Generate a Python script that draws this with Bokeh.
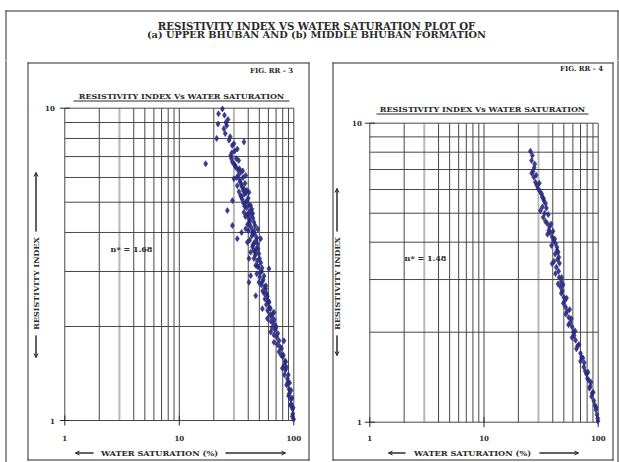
import math
from bokeh.plotting import figure
from bokeh.models import Label, BoxAnnotation, Arrow, OpenHead, Range1d
from bokeh.core.properties import value
from bokeh.layouts import column, row
from bokeh.embed import file_html
from bokeh.resources import INLINE

FONT = "DejaVu Serif"
INK = "#2a2a2a"
GRID = "#474747"
GRID_LIGHT = "#b8b8b8"
PT = "#28287f"

# ---------------- data ----------------
title_lines = ["RESISTIVITY INDEX VS WATER SATURATION PLOT OF",
               "(a) UPPER BHUBAN AND (b) MIDDLE BHUBAN FORMATION"]
chart_title = "RESISTIVITY INDEX Vs WATER SATURATION"
fig_labels = ["FIG. RR - 3", "FIG. RR - 4"]
n_labels = ["n* = 1.68", "n* = 1.48"]
x_label = "WATER SATURATION (%)"
y_label = "RESISTIVITY INDEX"

x_ticks = [1, 10, 100]
x_tick_labels = ["1", "10", "100"]
y_ticks = [1, 10]
y_tick_labels = ["1", "10"]
x_grid_dark = [1, 2, 4, 5, 6, 7, 8, 9, 10, 20, 40, 50, 60, 70, 80, 90, 100]
x_grid_light = [3, 30]
y_grid = [1, 2, 3, 4, 5, 6, 7, 8, 9, 10]

# (a) Upper Bhuban: water saturation (%) and resistivity index
left_sw = [23.8, 26.6, 24.5, 21.2, 27.2, 30.0, 36.7, 32.1, 28.1, 17.0, 29.1, 31.1,
           34.4, 38.0, 30.0, 32.1, 36.7, 40.6, 34.4, 29.1, 38.0, 42.0, 26.3, 36.7,
           40.6, 44.9, 29.1, 38.0, 43.5, 32.1, 39.3, 48.1, 42.0, 51.4, 44.9, 40.6,
           46.5, 60.7, 42.0, 49.6, 40.6, 56.8, 46.5, 60.7, 53.2, 67.1, 58.8, 69.5,
           62.8, 82.0, 67.1, 74.3, 85.0, 79.4, 87.9, 90.8, 94.0, 97.2, 99.6,
           24.8, 25.5, 26.0, 25.2, 27.8, 29.0, 30.5, 28.8, 31.5, 33.0, 30.2, 33.5,
           35.8, 32.8, 36.0, 34.0, 37.5, 35.2, 39.0, 33.2, 37.0, 40.0, 35.5, 36.5,
           40.5, 38.5, 43.0, 40.0, 42.2, 37.8, 44.0, 41.5, 39.5, 46.0, 42.5, 40.2,
           45.5, 43.0, 47.5, 41.2, 45.0, 43.5, 47.0, 44.8, 49.5, 46.0, 48.0, 51.5,
           49.0, 52.5, 47.5, 50.5, 54.0, 52.0, 55.5, 53.5, 58.0, 56.0, 59.5, 57.5,
           61.5, 59.0, 62.0, 64.5, 63.0, 66.0, 64.5, 68.5, 67.0, 71.0, 72.0, 76.0,
           77.5, 80.0, 82.0, 84.5, 83.0, 88.5, 86.5, 91.5, 90.0, 95.0, 93.5, 98.0,
           97.0, 35.0, 48.5, 22.0, 21.8,
           28.5, 30.8, 32.5, 31.8, 33.8, 35.0, 36.2, 38.2, 34.8, 39.2, 37.2, 41.8,
           39.0, 43.8, 41.0, 45.0, 43.8, 46.8, 44.2, 48.6, 46.3, 50.2, 48.0, 52.8,
           50.8, 55.0, 53.0, 57.0, 55.2, 58.8, 60.5, 62.5, 65.5, 67.5, 69.8, 72.5,
           74.5, 78.0, 81.0, 84.0, 86.5, 89.5, 92.0, 94.5, 96.5, 98.5]
left_ri = [9.95, 9.2, 8.6, 8.0, 7.9, 7.7, 7.8, 7.4, 7.06, 6.64, 6.72, 6.47,
           6.24, 6.09, 5.94, 5.65, 5.52, 5.38, 5.25, 5.06, 5.0, 4.88, 4.7, 4.64,
           4.42, 4.31, 4.21, 4.11, 4.01, 3.82, 3.72, 3.68, 3.46, 3.82, 3.30, 3.30,
           3.14, 3.06, 2.91, 2.77, 2.77, 2.64, 2.51, 2.39, 2.28, 2.22, 2.12, 2.01,
           1.92, 1.80, 1.78, 1.66, 1.54, 1.47, 1.36, 1.26, 1.17, 1.09, 1.01,
           9.5, 9.0, 8.8, 8.3, 8.1, 7.6, 7.3, 7.2, 6.9, 6.8, 6.6, 6.4,
           6.3, 6.1, 6.0, 5.8, 5.75, 5.6, 5.45, 5.4, 5.3, 5.15, 5.1, 4.95,
           4.9, 4.8, 4.75, 4.6, 4.55, 4.5, 4.45, 4.35, 4.25, 4.2, 4.15, 4.05,
           3.95, 3.9, 3.85, 3.78, 3.7, 3.6, 3.55, 3.5, 3.42, 3.38, 3.25, 3.2,
           3.1, 3.0, 2.95, 2.88, 2.82, 2.72, 2.68, 2.6, 2.55, 2.45, 2.42, 2.35,
           2.3, 2.25, 2.18, 2.15, 2.08, 2.05, 1.98, 1.95, 1.88, 1.85, 1.75, 1.72,
           1.62, 1.6, 1.5, 1.45, 1.4, 1.32, 1.3, 1.22, 1.2, 1.13, 1.12, 1.05,
           1.03, 4.0, 4.1, 9.6, 8.9,
           6.9, 6.55, 6.35, 6.0, 5.9, 5.7, 5.45, 5.35, 5.2, 5.05, 4.85, 4.7,
           4.55, 4.6, 4.25, 4.05, 3.98, 3.78, 3.66, 3.55, 3.45, 3.3, 3.12, 3.08,
           2.98, 2.9, 2.78, 2.7, 2.55, 2.5, 2.4, 2.28, 2.2, 2.1, 1.98, 1.9,
           1.8, 1.7, 1.62, 1.55, 1.48, 1.4, 1.32, 1.25, 1.18, 1.1]

# (b) Middle Bhuban
right_sw = [25.5, 26.1, 26.8, 27.3, 28.2, 29.8, 32.4, 34.6, 31.2, 33.0, 35.8, 36.9,
            39.5, 42.3, 43.7, 45.2, 39.5, 42.3, 46.8, 50.0, 51.8, 55.3, 59.2, 63.3,
            70.0, 74.8, 82.8, 91.5, 99.5,
            26.5, 27.5, 26.2, 29.0, 31.0, 33.5, 32.5, 34.0, 34.5, 37.5, 38.0, 36.0,
            40.5, 39.0, 43.5, 42.0, 44.0, 41.0, 43.0, 45.0, 45.5, 47.5, 44.5, 48.5,
            47.5, 51.0, 49.5, 53.5, 52.0, 57.0, 55.0, 60.5, 61.5, 59.0, 66.0, 64.5,
            71.5, 70.0, 77.0, 79.0, 80.5, 85.0, 84.0, 88.5, 87.5, 93.5, 95.5, 97.5,
            99.0,
            27.8, 28.6, 30.5, 32.0, 33.2, 35.2, 36.5, 38.6, 40.2, 41.6, 44.6, 45.8,
            47.8, 49.2, 52.8, 56.2, 58.2, 62.8, 67.8, 73.5, 75.5, 81.5, 86.5, 90.5,
            96.0]
right_ri = [8.06, 7.5, 6.9, 6.6, 6.35, 6.04, 5.66, 5.39, 5.1, 4.85, 4.62, 4.38,
            4.16, 3.96, 3.75, 3.56, 3.39, 3.14, 2.83, 2.62, 2.43, 2.24, 2.08, 1.88,
            1.70, 1.53, 1.38, 1.18, 1.01,
            7.8, 7.1, 6.8, 6.2, 5.9, 5.5, 5.25, 5.0, 4.7, 4.5, 4.3, 4.25,
            4.05, 3.9, 3.85, 3.65, 3.5, 3.45, 3.3, 3.2, 3.05, 2.95, 2.9, 2.75,
            2.7, 2.55, 2.5, 2.35, 2.3, 2.15, 2.12, 2.0, 1.95, 1.92, 1.8, 1.76,
            1.65, 1.6, 1.48, 1.45, 1.4, 1.32, 1.3, 1.25, 1.22, 1.14, 1.1, 1.06,
            1.03,
            7.3, 6.7, 6.3, 5.8, 5.6, 5.2, 4.95, 4.6, 4.35, 4.1, 3.7, 3.4,
            3.05, 2.88, 2.6, 2.38, 2.22, 2.02, 1.82, 1.64, 1.58, 1.47, 1.36, 1.26,
            1.12]

# ---------------- page layout (pixels) ----------------
PAGE_W, PAGE_H = 619, 462
TITLE_H = 60


def lab(p, cx0, cy1, X, Y, text, size, angle=0.0, align="center", color=INK):
    p.add_layout(Label(x=X - cx0, y=cy1 - Y, x_units="screen", y_units="screen",
                       text=text, text_font=FONT, text_font_size=f"{size}px",
                       text_font_style="bold", text_align=align,
                       text_baseline="middle", angle=angle, text_color=color))


def rect(p, cx0, cy1, X0, Y0, X1, Y1, color=INK):
    """filled thin rectangle (rules / frame lines), page pixels"""
    p.add_layout(BoxAnnotation(left=X0 - cx0, right=X1 - cx0, top=cy1 - Y0, bottom=cy1 - Y1,
                               left_units="screen", right_units="screen",
                               top_units="screen", bottom_units="screen",
                               fill_color=color, fill_alpha=1.0, line_color=None,
                               level="overlay"))


def frame_box(p, cx0, cy1, X0, Y0, X1, Y1, color=INK):
    rect(p, cx0, cy1, X0, Y0, X1 + 1, Y0 + 1, color)
    rect(p, cx0, cy1, X0, Y1, X1 + 1, Y1 + 1, color)
    rect(p, cx0, cy1, X0, Y0, X0 + 1, Y1 + 1, color)
    rect(p, cx0, cy1, X1, Y0, X1 + 1, Y1 + 1, color)


def bare(fig):
    fig.grid.visible = False
    fig.outline_line_color = None
    fig.background_fill_color = "white"
    fig.border_fill_color = "white"
    return fig


# ---------------- title figure ----------------
tp = bare(figure(width=PAGE_W, height=TITLE_H, x_range=Range1d(0, PAGE_W),
                 y_range=Range1d(0, TITLE_H), min_border=0, toolbar_location=None,
                 output_backend="svg", x_axis_location=None, y_axis_location=None,
                 title_location=None))
frame_box(tp, 0, TITLE_H, 5, 10, 617, 500)
lab(tp, 0, TITLE_H, 316, 25, title_lines[0], 10.2)
lab(tp, 0, TITLE_H, 316, 34, title_lines[1], 9.8)


# ---------------- panels ----------------
def log_span(p_lo, p_hi, c_lo, c_hi, v_lo, v_hi):
    """range values for canvas edges c_lo..c_hi, given value v_lo at pixel p_lo, v_hi at p_hi"""
    k = (math.log10(v_hi) - math.log10(v_lo)) / (p_hi - p_lo)
    return (10 ** (math.log10(v_lo) + (c_lo - p_lo) * k),
            10 ** (math.log10(v_lo) + (c_hi - p_lo) * k))


def panel(cfg, sw, ri, idx):
    cx0, cx1 = cfg["cx"]
    cy0, cy1 = TITLE_H, PAGE_H
    W, H = cx1 - cx0, cy1 - cy0
    fl, fr, ft, fb = cfg["frame"]
    xs, xe = log_span(fl, fr, cx0, cx1, 1, 100)
    ys, ye = log_span(fb, ft, cy1, cy0, 1, 10)
    p = bare(figure(width=W, height=H, x_axis_type="log", y_axis_type="log",
                    x_range=Range1d(xs, xe), y_range=Range1d(ys, ye), min_border=0,
                    toolbar_location=None, output_backend="svg",
                    x_axis_location=None, y_axis_location=None, title_location=None))

    def to_x(X):
        return 10 ** (2 * (X - fl) / (fr - fl))

    def to_y(Y):
        return 10 ** ((fb - Y) / (fb - ft))

    def arrow(X0, Y0, X1, Y1):
        # shaft drawn as a segment, head as an open arrow annotation
        p.segment(x0=[to_x(X0)], y0=[to_y(Y0)], x1=[to_x(X1)], y1=[to_y(Y1)],
                  line_color=INK, line_width=1)
        p.add_layout(Arrow(x_start=X0 - cx0, y_start=cy1 - Y0, x_end=X1 - cx0,
                           y_end=cy1 - Y1, start_units="screen", end_units="screen",
                           end=OpenHead(size=4, line_color=INK, line_width=1),
                           line_color=INK, line_width=1))

    # log grid through the plot's scales
    p.segment(x0=x_grid_light, x1=x_grid_light, y0=[1] * len(x_grid_light),
              y1=[10] * len(x_grid_light), line_color=GRID_LIGHT, line_width=2)
    p.segment(x0=x_grid_dark, x1=x_grid_dark, y0=[1] * len(x_grid_dark),
              y1=[10] * len(x_grid_dark), line_color=GRID, line_width=1)
    p.segment(x0=[1] * len(y_grid), x1=[100] * len(y_grid), y0=y_grid, y1=y_grid,
              line_color=GRID, line_width=1)
    # ticks
    p.scatter(x=x_ticks, y=[1] * len(x_ticks), marker="dash", size=10, angle=math.pi / 2,
              line_color=INK, line_width=1)
    p.scatter(x=[1] * len(y_ticks), y=y_ticks, marker="dash", size=10,
              line_color=INK, line_width=1)
    # tick labels
    p.text(x=x_ticks, y=[1] * len(x_ticks), text=x_tick_labels, y_offset=cfg["xto"],
           text_align="center", text_baseline="middle", text_font=value(FONT),
           text_font_size="7px", text_font_style="bold", text_color=INK)
    p.text(x=[1] * len(y_ticks), y=y_ticks, text=y_tick_labels, x_offset=cfg["yto"],
           text_align="right", text_baseline="middle", text_font=value(FONT),
           text_font_size="7px", text_font_style="bold", text_color=INK)

    # data
    p.scatter(sw, ri, marker="diamond", size=6, fill_color=PT, line_color=PT,
              line_alpha=0.6, fill_alpha=0.9)

    L = cfg["lab"]
    frame_box(p, cx0, cy1, *cfg["pbox"])
    ox = cfg["oline"]
    rect(p, cx0, cy1, ox, 0, ox + 1, 600)
    lab(p, cx0, cy1, L["fig"][0], L["fig"][1], fig_labels[idx], 7)
    lab(p, cx0, cy1, L["ct"][0], L["ct"][1], chart_title, 8)
    rect(p, cx0, cy1, L["ul"][0], L["ul"][1], L["ul"][2], L["ul"][1] + 1)
    lab(p, cx0, cy1, L["n"][0], L["n"][1], n_labels[idx], 8)
    yx, yc = L["yl"]
    lab(p, cx0, cy1, yx, yc, y_label, 8, angle=math.pi / 2)
    arrow(yx + 0.5, L["yup"][0], yx + 0.5, L["yup"][1])
    arrow(yx + 0.5, L["ydn"][0], yx + 0.5, L["ydn"][1])
    xc, xy = L["xl"]
    lab(p, cx0, cy1, xc, xy, x_label, 8.2)
    arrow(L["xlt"][0], xy + 0.5, L["xlt"][1], xy + 0.5)
    arrow(L["xrt"][0], xy + 0.5, L["xrt"][1], xy + 0.5)
    return p


left_cfg = dict(cx=(0, 318), frame=(64.3, 293.3, 107.7, 420.0), xto=17, yto=-10,
                pbox=(27, 62, 308, 459), oline=5,
                lab=dict(fig=(271, 70), ct=(181, 95), ul=(73, 100, 289),
                         n=(131, 248), yl=(35, 283), yup=(231, 172), ydn=(335, 357),
                         xl=(159, 452), xlt=(93, 75), xrt=(225, 285)))
right_cfg = dict(cx=(318, PAGE_W), frame=(369.3, 597.7, 122.7, 421.7), xto=16, yto=-8,
                 pbox=(332, 62, 612, 459), oline=617,
                 lab=dict(fig=(581, 68), ct=(482, 108), ul=(376, 113, 588),
                          n=(425, 257), yl=(336, 283), yup=(231, 188), ydn=(335, 355),
                          xl=(472, 452), xlt=(405, 388), xrt=(539, 578)))

lp = panel(left_cfg, left_sw, left_ri, 0)
rp = panel(right_cfg, right_sw, right_ri, 1)

layout = column(tp, row(lp, rp))
open("out.html", "w").write(file_html(layout, INLINE))
